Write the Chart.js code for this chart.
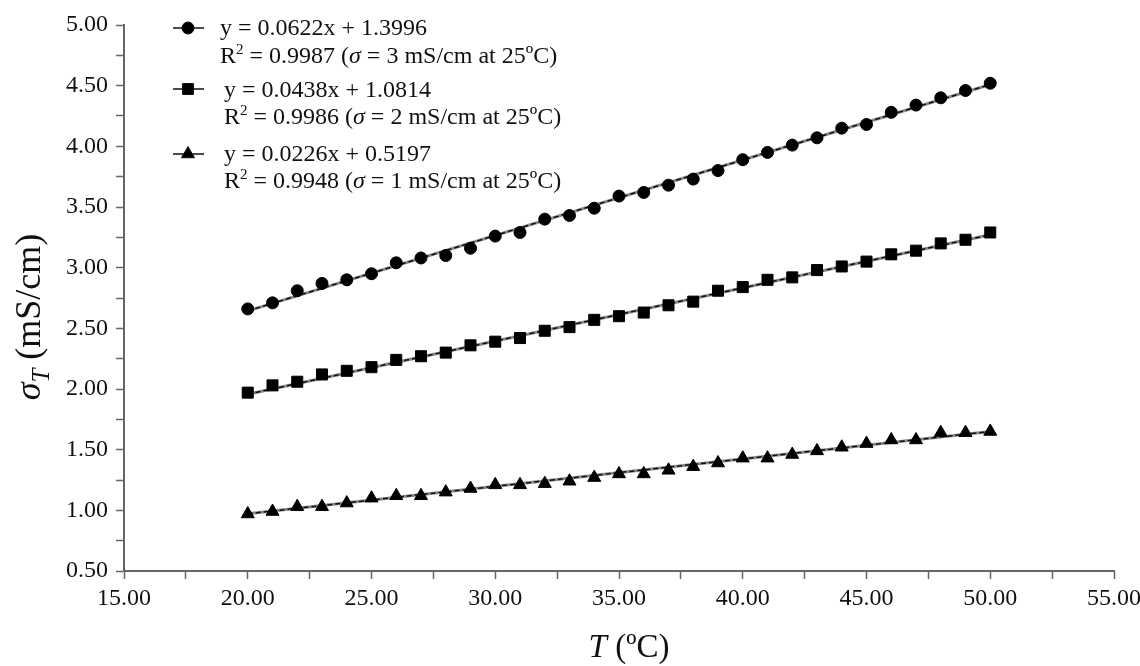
<!DOCTYPE html>
<html>
<head>
<meta charset="utf-8">
<script src="https://cdn.jsdelivr.net/npm/chart.js@4.4.0/dist/chart.umd.min.js"></script>
<style>
html, body { margin: 0; padding: 0; background: #fff; }
#chart { display: block; }
</style>
</head>
<body>
<canvas id="chart" width="1140" height="666"></canvas>
<script>
// ---- data ----
const temps = [20, 21, 22, 23, 24, 25, 26, 27, 28, 29, 30, 31, 32, 33, 34, 35,
  36, 37, 38, 39, 40, 41, 42, 43, 44, 45, 46, 47, 48, 49, 50];

// sigma = 3 mS/cm at 25ºC (circles)
const sigma3 = [2.66, 2.71, 2.81, 2.87, 2.90, 2.95, 3.04, 3.08, 3.10, 3.16, 3.26,
  3.29, 3.40, 3.43, 3.49, 3.59, 3.62, 3.68, 3.73, 3.80, 3.89, 3.95, 4.01, 4.07,
  4.15, 4.18, 4.28, 4.34, 4.40, 4.46, 4.52];
// sigma = 2 mS/cm at 25ºC (squares)
const sigma2 = [1.97, 2.03, 2.06, 2.12, 2.15, 2.18, 2.24, 2.27, 2.30, 2.36, 2.39,
  2.42, 2.48, 2.51, 2.57, 2.60, 2.63, 2.69, 2.72, 2.81, 2.84, 2.90, 2.92, 2.98,
  3.01, 3.05, 3.11, 3.14, 3.20, 3.23, 3.29];
// sigma = 1 mS/cm at 25ºC (triangles)
const sigma1 = [0.97, 0.99, 1.03, 1.03, 1.06, 1.10, 1.12, 1.12, 1.15, 1.18, 1.21,
  1.21, 1.22, 1.24, 1.27, 1.30, 1.30, 1.33, 1.36, 1.39, 1.43, 1.43, 1.46, 1.49,
  1.52, 1.55, 1.58, 1.58, 1.64, 1.64, 1.65];

// linear fits printed in the legend
const fitSlopes = [0.0622, 0.0438, 0.0226];
const fitIntercepts = [1.3996, 1.0814, 0.5197];
const fitR2 = ['0.9987', '0.9986', '0.9948'];
const refSigma = [3, 2, 1];

// axes
const xMin = 15, xMax = 55, xStep = 5;
const yMin = 0.5, yMax = 5, yStep = 0.5;

// ---- styling ----
const SERIF = '"Liberation Serif", "DejaVu Serif", serif';
const series = [sigma3, sigma2, sigma1];
const markers = [
  { style: 'circle', radius: 6 },
  { style: 'rect', radius: 7.8 },
  { style: 'triangle', radius: 7.5 }
];

function toPoints(ys) {
  return temps.map((t, i) => ({ x: t, y: ys[i] }));
}

function fitLine(k) {
  const x0 = temps[0];
  const x1 = temps[temps.length - 1];
  return [
    { x: x0, y: fitSlopes[k] * x0 + fitIntercepts[k] },
    { x: x1, y: fitSlopes[k] * x1 + fitIntercepts[k] }
  ];
}

const datasets = [];
series.forEach((ys, k) => {
  datasets.push({
    data: toPoints(ys),
    showLine: false,
    pointStyle: markers[k].style,
    pointRadius: markers[k].radius,
    pointBackgroundColor: '#000',
    pointBorderColor: '#000',
    pointBorderWidth: 1,
    order: 1
  });
});
series.forEach((ys, k) => {
  // grey underlay + black dashes, like the original trend line
  datasets.push({
    data: fitLine(k),
    showLine: true,
    borderColor: '#8a8a8a',
    borderWidth: 3,
    pointRadius: 0,
    order: 3
  });
  datasets.push({
    data: fitLine(k),
    showLine: true,
    borderColor: '#111',
    borderWidth: 1.5,
    borderDash: [5, 3],
    pointRadius: 0,
    order: 2
  });
});

// draw a row of differently styled text pieces
function drawRuns(ctx, x, y, runs) {
  runs.forEach(r => {
    ctx.font = r.font;
    ctx.fillText(r.text, x, y + (r.dy || 0));
    x += ctx.measureText(r.text).width;
  });
  return x;
}
function runsWidth(ctx, runs) {
  let w = 0;
  runs.forEach(r => {
    ctx.font = r.font;
    w += ctx.measureText(r.text).width;
  });
  return w;
}

const F = '24px ' + SERIF;
const FI = 'italic 24px ' + SERIF;
const FSUP = '15px ' + SERIF;
const FT = '33px ' + SERIF;
const FTI = 'italic 33px ' + SERIF;
const FY = '36px ' + SERIF;
const FYI = 'italic 36px ' + SERIF;
const FYSUB = 'italic 25px ' + SERIF;

// legend layout (marker centre y, text x, baselines)
const legendRows = [
  { my: 28, tx: 220, b1: 35, b2: 63 },
  { my: 89, tx: 224, b1: 97, b2: 124 },
  { my: 154, tx: 224, b1: 161, b2: 188 }
];

const annotations = {
  id: 'annotations',
  afterDraw(chart) {
    const ctx = chart.ctx;
    ctx.save();
    ctx.fillStyle = '#111';
    ctx.strokeStyle = '#111';
    ctx.textBaseline = 'alphabetic';
    ctx.textAlign = 'left';

    // legend
    legendRows.forEach((row, k) => {
      ctx.lineWidth = 1.5;
      ctx.beginPath();
      ctx.moveTo(173, row.my);
      ctx.lineTo(204, row.my);
      ctx.stroke();
      ctx.fillStyle = '#000';
      ctx.lineWidth = 1;
      Chart.helpers.drawPoint(ctx, {
        pointStyle: markers[k].style,
        radius: markers[k].radius,
        rotation: 0,
        borderWidth: 1
      }, 188, row.my);
      ctx.fillStyle = '#111';

      drawRuns(ctx, row.tx, row.b1, [
        { text: 'y = ' + fitSlopes[k] + 'x + ' + fitIntercepts[k], font: F }
      ]);
      drawRuns(ctx, row.tx, row.b2, [
        { text: 'R', font: F },
        { text: '2', font: FSUP, dy: -9 },
        { text: ' = ' + fitR2[k] + ' (', font: F },
        { text: 'σ', font: FI },
        { text: ' = ' + refSigma[k] + ' mS/cm at 25ºC)', font: F }
      ]);
    });

    // x axis title
    const xRuns = [
      { text: 'T', font: FTI },
      { text: ' (ºC)', font: FT }
    ];
    drawRuns(ctx, 629 - runsWidth(ctx, xRuns) / 2, 657, xRuns);

    // y axis title, rotated
    const yRuns = [
      { text: 'σ', font: FYI },
      { text: 'T', font: FYSUB, dy: 9 },
      { text: ' (mS/cm)', font: FY }
    ];
    const w = runsWidth(ctx, yRuns);
    ctx.translate(40, 317 + w / 2);
    ctx.rotate(-Math.PI / 2);
    drawRuns(ctx, 0, 0, yRuns);
    ctx.restore();
  }
};

const axisColor = '#666';

new Chart(document.getElementById('chart'), {
  type: 'scatter',
  data: { datasets },
  options: {
    responsive: false,
    animation: false,
    layout: { padding: { top: 25, right: 26, left: 0, bottom: 0 } },
    plugins: {
      legend: { display: false },
      tooltip: { enabled: false }
    },
    scales: {
      x: {
        type: 'linear',
        min: xMin,
        max: xMax,
        afterFit: (scale) => {
          scale.height = 95;
          scale.paddingLeft = 0;
          scale.paddingRight = 0;
        },
        ticks: {
          stepSize: xStep / 2,
          color: '#111',
          padding: 5,
          maxRotation: 0,
          autoSkip: false,
          font: { family: SERIF, size: 24 },
          callback: (v) => (v % xStep === 0 ? v.toFixed(2) : '')
        },
        grid: {
          drawOnChartArea: false,
          drawTicks: true,
          tickLength: 8,
          tickColor: axisColor,
          tickWidth: 1.5
        },
        border: { color: axisColor, width: 2 }
      },
      y: {
        type: 'linear',
        min: yMin,
        max: yMax,
        afterFit: (scale) => {
          scale.width = 124;
          scale.paddingTop = 0;
          scale.paddingBottom = 0;
        },
        ticks: {
          stepSize: yStep / 2,
          color: '#111',
          padding: 8,
          autoSkip: false,
          font: { family: SERIF, size: 24 },
          callback: (v) => (Math.abs(v / yStep - Math.round(v / yStep)) < 1e-6 ? v.toFixed(2) : '')
        },
        grid: {
          drawOnChartArea: false,
          drawTicks: true,
          tickLength: 8,
          tickColor: axisColor,
          tickWidth: 1.5
        },
        border: { color: axisColor, width: 2 }
      }
    }
  },
  plugins: [annotations]
});
</script>
</body>
</html>
